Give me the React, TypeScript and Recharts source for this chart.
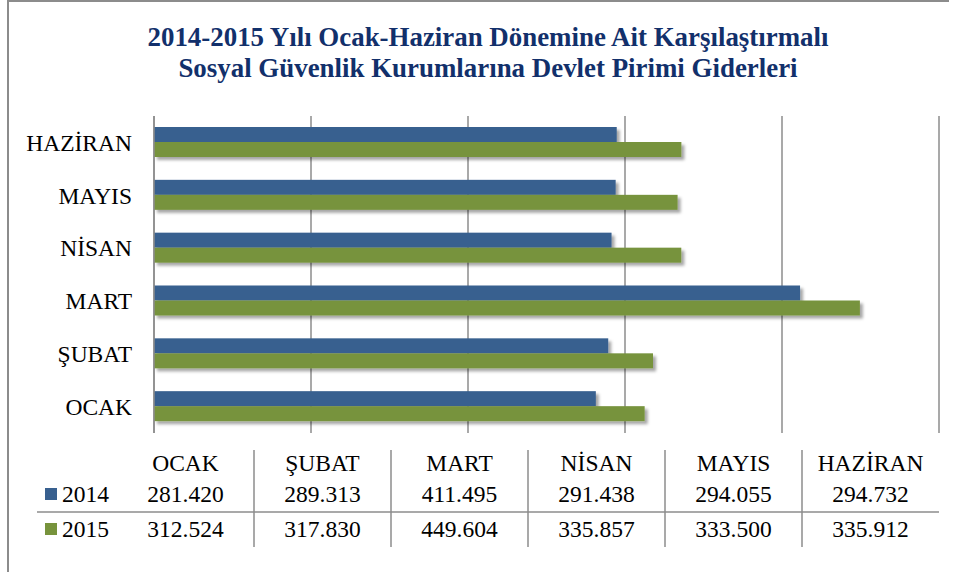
import { BarChart, Bar, XAxis, YAxis, CartesianGrid } from 'recharts';

const months = ['OCAK', 'ŞUBAT', 'MART', 'NİSAN', 'MAYIS', 'HAZİRAN'];
const values2014 = [281.42, 289.313, 411.495, 291.438, 294.055, 294.732];
const values2015 = [312.524, 317.83, 449.604, 335.857, 333.5, 335.912];
const xTicks = [0, 100, 200, 300, 400, 500];
const seriesNames = ['2014', '2015'];
const titleLines = [
  '2014-2015 Yılı Ocak-Haziran Dönemine Ait Karşılaştırmalı',
  'Sosyal Güvenlik Kurumlarına Devlet Pirimi Giderleri',
];

const data = months.map((m, i) => ({ name: m, y2014: values2014[i], y2015: values2015[i] }));

const FONT = '"Liberation Serif", "Times New Roman", serif';
const BLUE = '#38608f';
const GREEN = '#77933c';
const GRID = '#8c8c8c';

const fmt = (v: number) => v.toFixed(3);

const ShadowBar = (props: any) => {
  const { x, y, width, height, fill } = props;
  if (!width || width <= 0) return null;
  return <rect x={x} y={y} width={width} height={height} fill={fill} filter="url(#barShadow)" />;
};

function DataTable() {
  const colX = 117;
  const colW = 137;
  const rows = [values2014, values2015];
  const colors = [BLUE, GREEN];
  const baselines = [502, 537];
  return (
    <g fontFamily={FONT} fontSize={23.5} fill="#000">
      {months.map((m, i) => (
        <text key={m} x={colX + colW * i + colW / 2} y={471} textAnchor="middle">
          {m}
        </text>
      ))}
      {rows.map((vals, r) => (
        <g key={r}>
          <rect x={45} y={baselines[r] - 14} width={12} height={12} fill={colors[r]} />
          <text x={62} y={baselines[r]}>{seriesNames[r]}</text>
          {vals.map((v, i) => (
            <text key={i} x={colX + colW * i + colW / 2} y={baselines[r]} textAnchor="middle">
              {fmt(v)}
            </text>
          ))}
        </g>
      ))}
      <line x1={37} x2={939} y1={512} y2={512} stroke={GRID} strokeWidth={1.5} />
      {months.slice(1).map((m, i) => (
        <line
          key={m}
          x1={colX + colW * (i + 1)}
          x2={colX + colW * (i + 1)}
          y1={450}
          y2={547}
          stroke={GRID}
          strokeWidth={1.5}
        />
      ))}
    </g>
  );
}

export default function App() {
  return (
    <div style={{ position: 'absolute', left: 0, top: 0, width: 957, height: 572, background: '#fff' }}>
      <div
        style={{
          position: 'absolute',
          left: 7,
          top: 0,
          width: 940,
          height: 572,
          borderLeft: '2px solid #8c8c8c',
          borderTop: '2px solid #8c8c8c',
        }}
      />
      <BarChart
        width={957}
        height={572}
        data={data}
        layout="vertical"
        margin={{ top: 116, right: 18, bottom: 139, left: 0 }}
        barGap={0}
        barSize={15}
        style={{ position: 'absolute', left: 0, top: 0 }}
      >
        <CartesianGrid horizontal={false} stroke={GRID} strokeWidth={1.5} />
        <XAxis type="number" domain={[0, 500]} ticks={xTicks} hide />
        <YAxis
          type="category"
          dataKey="name"
          reversed
          width={154}
          axisLine={{ stroke: GRID, strokeWidth: 1.5 }}
          tickLine={false}
          tickMargin={16}
          tick={{ fill: '#000', fontSize: 23.5, fontFamily: FONT }}
        />
        <Bar dataKey="y2014" fill={BLUE} shape={ShadowBar} isAnimationActive={false} />
        <Bar dataKey="y2015" fill={GREEN} shape={ShadowBar} isAnimationActive={false} />
      </BarChart>
      <svg
        width={957}
        height={572}
        style={{ position: 'absolute', left: 0, top: 0, pointerEvents: 'none' }}
      >
        <defs>
          <filter id="barShadow" x="-10%" y="-30%" width="130%" height="200%">
            <feDropShadow dx={3} dy={3} stdDeviation={1.8} floodColor="#000" floodOpacity={0.35} />
          </filter>
        </defs>
        <g fontFamily={FONT} fontWeight="bold" fontSize={26.9} fill="#12306b" textAnchor="middle">
          {titleLines.map((t, i) => (
            <text key={i} x={488} y={46 + i * 31.3}>
              {t}
            </text>
          ))}
        </g>
        <DataTable />
      </svg>
    </div>
  );
}
